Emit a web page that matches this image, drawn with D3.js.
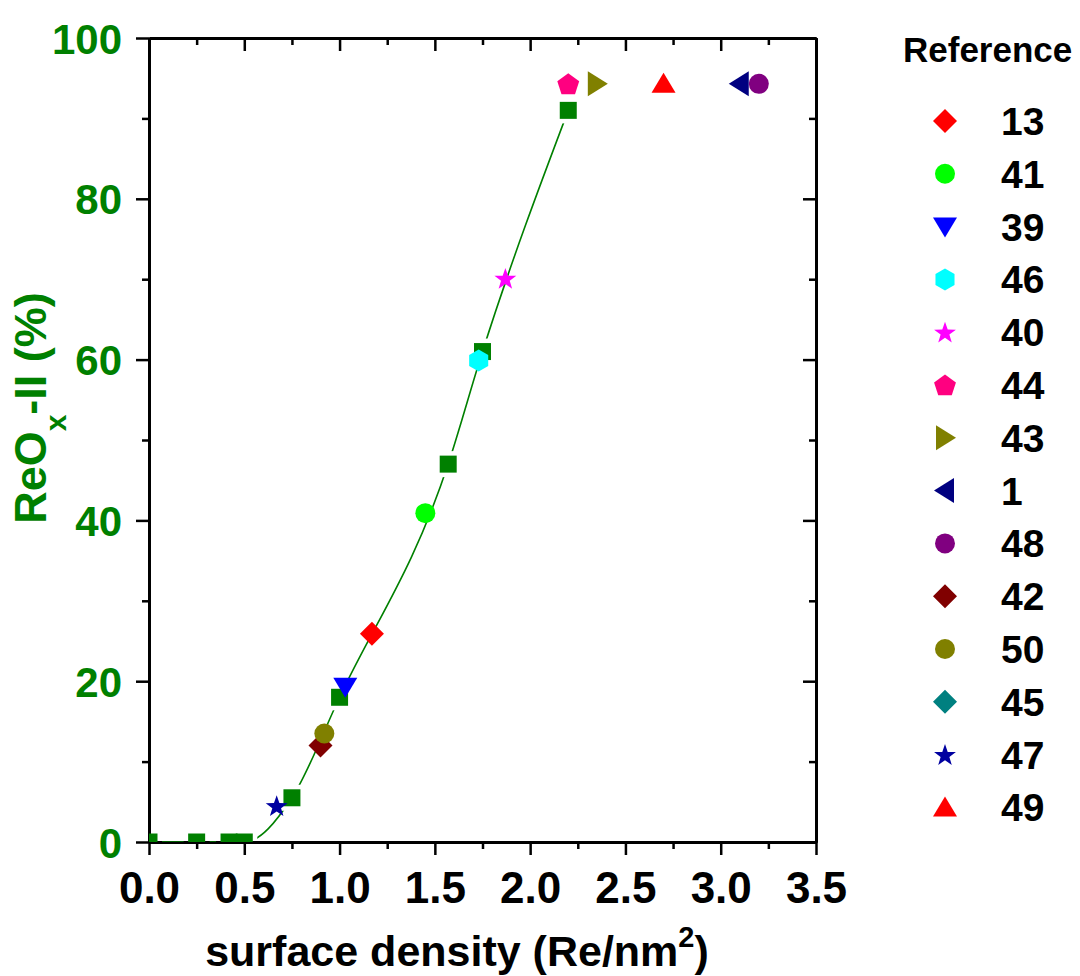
<!DOCTYPE html>
<html>
<head>
<meta charset="utf-8">
<script src="https://cdn.jsdelivr.net/npm/d3@7"></script>
<style>
  body { margin: 0; background: #fff; }
  svg { display: block; font-family: "Liberation Sans", Arial, sans-serif; font-weight: bold; }
</style>
</head>
<body>
<script>
// green series (line + squares)
const densityX = [0, 0.25, 0.42, 0.5, 0.75, 1.0, 1.57, 1.75, 2.2];
const reoxY = [0, 0, 0, 0, 5.5, 18, 47, 61, 91];

// literature points, one per reference
const refLabels = ["13", "41", "39", "46", "40", "44", "43", "1", "48", "42", "50", "45", "47", "49"];
const refX = [1.17, 1.45, 1.03, 1.73, 1.87, 2.2, 2.35, 3.1, 3.2, 0.9, 0.92, null, 0.67, 2.7];
const refY = [25.9, 40.9, 19.3, 59.9, 70.1, 94.3, 94.3, 94.3, 94.3, 12.0, 13.5, null, 4.5, 94.3];

const xTicks = [0, 0.5, 1.0, 1.5, 2.0, 2.5, 3.0, 3.5];
const yTicks = [0, 20, 40, 60, 80, 100];

// marker styles
const refShapes = ["diamond", "circle", "triDown", "hexagon", "star", "pentagon", "triRight",
                   "triLeft", "circle", "diamond", "circle", "diamond", "star", "triUp"];
const refColors = ["#ff0000", "#00ff00", "#0000ff", "#00ffff", "#ff00ff", "#ff0080", "#808000",
                   "#000080", "#800080", "#800000", "#808000", "#008080", "#0000a0", "#ff0000"];

const width = 1080, height = 976;
const margin = {top: 38, right: 264, bottom: 134, left: 149};
const green = "#008000";

const x = d3.scaleLinear().domain([0, 3.5]).range([margin.left, width - margin.right]);
const y = d3.scaleLinear().domain([0, 100]).range([height - margin.bottom, margin.top]);

function poly(pts) { return "M" + pts.map(p => p.join(",")).join("L") + "Z"; }
function ngon(n, r, rot) {
  return d3.range(n).map(i => {
    const a = rot + i * 2 * Math.PI / n;
    return [r * Math.cos(a), r * Math.sin(a)];
  });
}
function shapePath(type) {
  switch (type) {
    case "square": return poly([[-8.5, -8.5], [8.5, -8.5], [8.5, 8.5], [-8.5, 8.5]]);
    case "diamond": return poly([[0, -12], [12, 0], [0, 12], [-12, 0]]);
    case "circle": return "M10,0A10,10 0 1,1 -10,0A10,10 0 1,1 10,0Z";
    case "triDown": return poly([[-12, -9], [12, -9], [0, 11]]);
    case "triUp": return poly([[-12, 9], [12, 9], [0, -11]]);
    case "triRight": return poly([[-9, -12.5], [-9, 12.5], [11, 0]]);
    case "triLeft": return poly([[9, -12.5], [9, 12.5], [-11, 0]]);
    case "hexagon": return poly(ngon(6, 11, -Math.PI / 2));
    case "pentagon": return poly(ngon(5, 11.5, -Math.PI / 2).map(p => [p[0], p[1] + 1]));
    case "star": {
      const pts = d3.range(10).map(i => {
        const r = i % 2 ? 4.6 : 11.5, a = -Math.PI / 2 + i * Math.PI / 5;
        return [r * Math.cos(a), r * Math.sin(a) + 1];
      });
      return poly(pts);
    }
  }
}

const svg = d3.select("body").append("svg")
    .attr("width", width)
    .attr("height", height)
    .attr("viewBox", [0, 0, width, height]);

const defs = svg.append("defs");
defs.append("clipPath").attr("id", "plot")
  .append("rect")
    .attr("x", x(0)).attr("y", y(100))
    .attr("width", x(3.5) - x(0)).attr("height", y(0) - y(100));

// mask that cuts the line around its own squares
const mask = defs.append("mask").attr("id", "gaps").attr("maskUnits", "userSpaceOnUse")
    .attr("x", 0).attr("y", 0).attr("width", width).attr("height", height);
mask.append("rect").attr("width", width).attr("height", height).attr("fill", "#fff");
mask.selectAll("rect.gap")
  .data(d3.range(densityX.length))
  .join("rect")
    .attr("class", "gap")
    .attr("x", i => x(densityX[i]) - 13)
    .attr("y", i => y(reoxY[i]) - 13)
    .attr("width", 26).attr("height", 26)
    .attr("fill", "#000");

// axes
const axisStyle = g => g
    .call(g => g.select(".domain").attr("stroke-width", 3).attr("stroke", "#000"))
    .call(g => g.selectAll(".tick line").attr("stroke-width", 2.5).attr("stroke", "#000"));

const xMinor = d3.range(0.25, 3.5, 0.5);
const yMinor = d3.range(10, 100, 20);

svg.append("g")
    .attr("transform", `translate(0,${y(0)})`)
    .call(d3.axisBottom(x).tickValues(xMinor).tickSize(7).tickSizeOuter(0).tickFormat(""))
    .call(axisStyle);
svg.append("g")
    .attr("transform", `translate(0,${y(0)})`)
    .call(d3.axisBottom(x).tickValues(xTicks).tickSize(13).tickSizeOuter(0).tickPadding(17)
      .tickFormat(d3.format(".1f")))
    .call(axisStyle)
    .call(g => g.selectAll(".tick text")
        .attr("font-size", 44).attr("font-family", "Liberation Sans, Arial, sans-serif")
        .attr("font-weight", "bold").attr("fill", "#000"));

svg.append("g")
    .attr("transform", `translate(0,${y(100)})`)
    .call(d3.axisTop(x).tickValues(xMinor).tickSize(-7).tickSizeOuter(0).tickFormat(""))
    .call(axisStyle);
svg.append("g")
    .attr("transform", `translate(0,${y(100)})`)
    .call(d3.axisTop(x).tickValues(xTicks).tickSize(-13).tickSizeOuter(0).tickFormat(""))
    .call(axisStyle);

svg.append("g")
    .attr("transform", `translate(${x(0)},0)`)
    .call(d3.axisLeft(y).tickValues(yMinor).tickSize(7).tickSizeOuter(0).tickFormat(""))
    .call(axisStyle);
svg.append("g")
    .attr("transform", `translate(${x(0)},0)`)
    .call(d3.axisLeft(y).tickValues(yTicks).tickSize(13).tickSizeOuter(0).tickPadding(14))
    .call(axisStyle)
    .call(g => g.selectAll(".tick text")
        .attr("font-size", 42).attr("font-family", "Liberation Sans, Arial, sans-serif")
        .attr("font-weight", "bold").attr("fill", green).attr("dy", "0.36em"));

svg.append("g")
    .attr("transform", `translate(${x(3.5)},0)`)
    .call(d3.axisRight(y).tickValues(yMinor).tickSize(-7).tickSizeOuter(0).tickFormat(""))
    .call(axisStyle);
svg.append("g")
    .attr("transform", `translate(${x(3.5)},0)`)
    .call(d3.axisRight(y).tickValues(yTicks).tickSize(-13).tickSizeOuter(0).tickFormat(""))
    .call(axisStyle);

// axis titles
const xt = svg.append("text")
    .attr("x", 457).attr("y", 966)
    .attr("text-anchor", "middle")
    .attr("font-size", 43)
    .attr("fill", "#000");
xt.append("tspan").text("surface density (Re/nm");
xt.append("tspan").attr("font-size", 29).attr("dy", -19).text("2");
xt.append("tspan").attr("dy", 19).text(")");

const yt = svg.append("text")
    .attr("transform", "translate(46,408) rotate(-90)")
    .attr("text-anchor", "middle")
    .attr("font-size", 45)
    .attr("fill", green);
yt.append("tspan").text("ReO");
yt.append("tspan").attr("font-size", 30).attr("dy", 20).text("x");
yt.append("tspan").attr("dy", -20).text("-II (%)");

// data
const plot = svg.append("g").attr("clip-path", "url(#plot)");

plot.append("path")
    .datum(d3.range(densityX.length))
    .attr("fill", "none")
    .attr("stroke", green)
    .attr("stroke-width", 1.6)
    .attr("mask", "url(#gaps)")
    .attr("d", d3.line().x(i => x(densityX[i])).y(i => y(reoxY[i])).curve(d3.curveMonotoneX));

plot.selectAll("path.sq")
  .data(d3.range(densityX.length))
  .join("path")
    .attr("class", "sq")
    .attr("transform", i => `translate(${x(densityX[i])},${y(reoxY[i])})`)
    .attr("d", shapePath("square"))
    .attr("fill", green);

plot.selectAll("path.ref")
  .data(d3.range(refLabels.length).filter(i => refX[i] != null))
  .join("path")
    .attr("class", "ref")
    .attr("transform", i => `translate(${x(refX[i])},${y(refY[i])})`)
    .attr("d", i => shapePath(refShapes[i]))
    .attr("fill", i => refColors[i]);

// legend
const legend = svg.append("g");
legend.append("text")
    .attr("x", 903).attr("y", 62)
    .attr("font-size", 35)
    .attr("fill", "#000")
    .text("Reference");

const rows = legend.selectAll("g.row")
  .data(d3.range(refLabels.length))
  .join("g")
    .attr("class", "row")
    .attr("transform", i => `translate(0,${121 + i * 52.8})`);
rows.append("path")
    .attr("transform", "translate(945,0)")
    .attr("d", i => shapePath(refShapes[i]))
    .attr("fill", i => refColors[i]);
rows.append("text")
    .attr("x", 1001).attr("y", 14)
    .attr("font-size", 39)
    .attr("fill", "#000")
    .text(i => refLabels[i]);
</script>
</body>
</html>
